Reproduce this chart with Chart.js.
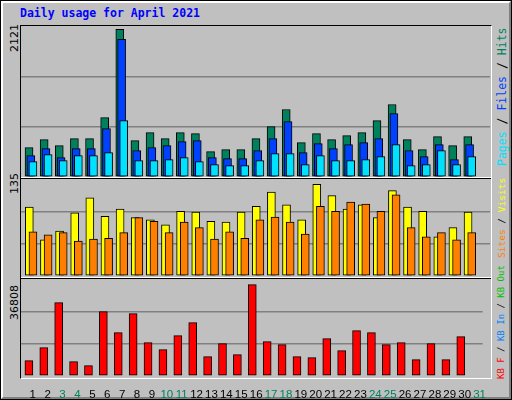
<!DOCTYPE html>
<html><head><meta charset="utf-8">
<script src="https://cdn.jsdelivr.net/npm/chart.js@4"></script>
<style>
body{margin:0;background:#c0c0c0;}
#frame{position:absolute;left:0;top:0;width:510px;height:398px;border:1px solid #000;background:#c0c0c0;}
#bevel{position:absolute;left:1px;top:1px;width:506px;height:394px;border-left:2px solid #fff;border-top:2px solid #fff;border-right:2px solid #808080;border-bottom:2px solid #808080;}
#box{position:absolute;left:20px;top:25px;width:470px;height:352px;border-left:1px solid #000;border-top:1px solid #000;border-right:1px solid #fff;border-bottom:1px solid #fff;}
.sep{position:absolute;left:21px;width:470px;height:1px;}
canvas{position:absolute;}
.t{position:absolute;font-family:"DejaVu Sans Mono",monospace;font-size:11.5px;white-space:nowrap;}
.rot{transform-origin:0 0;transform:rotate(-90deg);}
</style></head><body>
<div id="frame"></div><div id="bevel"></div><div id="box"></div>
<div class="sep" style="top:177px;background:#fff"></div><div class="sep" style="top:178px;background:#000"></div>
<div class="sep" style="top:277px;background:#fff"></div><div class="sep" style="top:278px;background:#000"></div>
<div class="t" style="left:20px;top:6px;color:#0000ff;font-weight:bold;">Daily usage for April 2021</div>
<div class="t rot" style="left:8px;top:52px;color:#000;font-family:'DejaVu Sans';font-size:11px">2121</div>
<div class="t rot" style="left:8px;top:194px;color:#000;font-family:'DejaVu Sans';font-size:11px">135</div>
<div class="t rot" style="left:8px;top:320px;color:#000;font-family:'DejaVu Sans';font-size:11px">36808</div>
<div class="t rot" style="left:495px;top:166px;"><span style="color:#00e0ff">Pages</span> / <span style="color:#0040ff">Files</span> / <span style="color:#00805c">Hits</span></div>
<div class="t rot" style="left:496px;top:258px;font-size:9.5px"><span style="color:#ff8000">Sites</span> / <span style="color:#ffff00">Visits</span></div>
<div class="t rot" style="left:496px;top:379px;font-size:9px"><span style="color:#ff0000">KB F</span> / <span style="color:#0080ff">KB In</span> / <span style="color:#00c000">KB Out</span></div>
<canvas id="c1" style="left:21px;top:26px;width:469px;height:151px"></canvas>
<canvas id="c2" style="left:21px;top:180px;width:469px;height:96px"></canvas>
<canvas id="c3" style="left:21px;top:280px;width:469px;height:120px"></canvas>
<script>
const days=[1,2,3,4,5,6,7,8,9,10,11,12,13,14,15,16,17,18,19,20,21,22,23,24,25,26,27,28,29,30];
const dayLabels=['1','2','3','4','5','6','7','8','9','10','11','12','13','14','15','16','17','18','19','20','21','22','23','24','25','26','27','28','29','30','31'];
const weekendDays=[3,4,10,11,17,18,24,25,31];
const hits=[422,538,451,552,552,854,2121,523,638,552,638,624,365,394,394,552,725,970,494,624,538,595,638,811,1042,538,394,581,451,581];
const files=[307,408,278,408,408,696,1978,379,422,451,509,523,278,264,264,379,552,797,350,480,408,466,494,552,912,379,293,466,250,466];
const pages=[221,322,235,307,307,350,811,235,235,250,278,221,178,163,163,235,336,336,178,307,235,235,250,293,466,163,178,379,178,293];
const visits=[97,51,63,89,110,84,94,82,79,72,91,90,77,76,90,98,118,100,79,129,113,94,100,82,120,97,91,55,68,90];
const sites=[62,58,61,49,52,53,61,82,77,61,76,68,52,62,53,79,83,76,59,98,91,104,101,91,114,68,55,61,51,61];
const kbytes=[6178,11416,29546,5775,4163,25920,17459,25114,13430,10610,16250,21488,7789,13027,8595,36808,13833,12624,7789,7386,15042,10207,18265,17459,12624,13430,6581,13027,6581,15847];
const top1=2170, top2=135, top3=38678;

const pts=a=>a.map((v,i)=>({x:days[i],y:v}));
function xAxis(shift,show){
  return {type:'linear',display:show,min:0.5-shift,max:31.5-shift,offset:false,
    grid:{display:false},border:{display:false},
    ticks:{display:show,stepSize:1,autoSkip:false,maxRotation:0,padding:4,
      font:{family:'Liberation Sans',size:11.5},
      color:c=>weekendDays.includes(c.tick.value)?'#00805c':'#000',
      callback:v=>dayLabels[v-1]},
    afterFit:s=>{if(show)s.height=24;},
    afterBuildTicks:s=>{s.ticks=dayLabels.map((l,i)=>({value:i+1}));}};
}
function yAxis(max){
  return {min:0,max:max,display:true,border:{display:false},
    ticks:{display:false,stepSize:max/3},
    grid:{drawTicks:false,color:c=>(c.tick.value>0&&c.tick.value<max-1)?'#808080':'rgba(0,0,0,0)',lineWidth:1.5},
    afterFit:s=>{s.width=0;}};
}
function ds(data,color,axis,order){
  return {data:pts(data),backgroundColor:color,borderColor:'#000',borderWidth:1,borderSkipped:false,barThickness:8,grouped:false,xAxisID:axis,order:order};
}
const base={responsive:false,animation:false,events:[],plugins:{legend:{display:false},tooltip:{enabled:false}},layout:{padding:0}};
function mk(id,w,h,datasets,scales){
  const c=document.getElementById(id);c.width=w;c.height=h;
  new Chart(c,{type:'bar',data:{datasets},options:Object.assign({},base,{scales})});
}
mk('c1',469,151,[ds(hits,'#00805c','xh',3),ds(files,'#0040ff','xf',2),ds(pages,'#00e0ff','xp',1)],
  {xh:xAxis(0.03,false),xf:xAxis(0.15,false),xp:xAxis(0.29,false),y:yAxis(top1)});
mk('c2',469,96,[ds(visits,'#ffff00','xv',2),ds(sites,'#ff8000','xs',1)],
  {xv:xAxis(0.05,false),xs:xAxis(0.29,false),y:yAxis(top2)});
mk('c3',469,120,[ds(kbytes,'#ff0000','xk',1)],
  {xk:xAxis(0.03,false),xl:Object.assign(xAxis(0.29,true),{position:'bottom'}),y:yAxis(top3)});
</script></body></html>
